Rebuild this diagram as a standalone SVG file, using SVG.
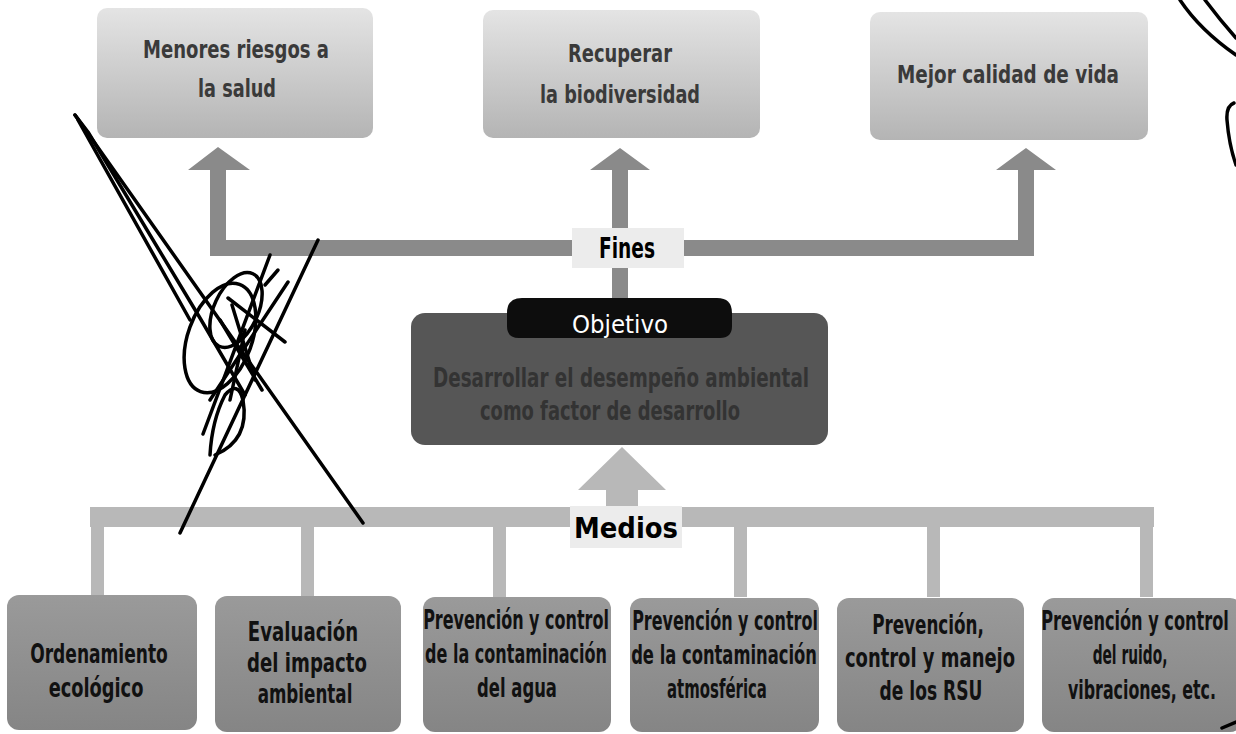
<svg xmlns="http://www.w3.org/2000/svg" width="1236" height="734" viewBox="0 0 1236 734">
<defs>
<style>
.top{fill:url(#gTop)}
.bot{fill:url(#gBot)}
.tt{font-family:"Liberation Sans Narrow","DejaVu Sans Condensed","Liberation Sans",sans-serif;font-weight:bold;font-size:25px;fill:#3a3a3a;text-anchor:middle}
.bt{font-family:"DejaVu Sans Condensed","Liberation Sans",sans-serif;font-weight:bold;font-size:26px;fill:#111;text-anchor:middle}
.lbl{font-family:"Liberation Sans Narrow","DejaVu Sans Condensed","Liberation Sans",sans-serif;font-weight:bold;font-size:28px;fill:#000;text-anchor:middle}
.arrT{fill:#8a8a8a}
.arrM{fill:#b8b8b8}
.scr{fill:none;stroke:#000;stroke-width:3.5;stroke-linecap:round;stroke-linejoin:round}
</style>
<linearGradient id="gTop" x1="0" y1="0" x2="0" y2="1">
<stop offset="0" stop-color="#e4e4e4"/>
<stop offset="1" stop-color="#b4b4b4"/>
</linearGradient>
<linearGradient id="gBot" x1="0" y1="0" x2="0" y2="1">
<stop offset="0" stop-color="#9a9a9a"/>
<stop offset="1" stop-color="#858585"/>
</linearGradient>
</defs>
<rect width="1236" height="734" fill="#fff"/>

<g id="connectors">
  <path class="arrT" d="M210,170 H188 L218,147 L250,170 H226 V240 H572 V256 H210 Z"/>
  <path class="arrT" d="M684,240 H1018 V170 H996 L1026,148 L1056,170 H1034 V256 H684 Z"/>
  <path class="arrT" d="M612,170 H590 L620,148 L650,170 H628 V228 H612 Z"/>
  <rect class="arrT" x="612" y="268" width="16" height="32"/>
  <path class="arrM" d="M606,490 H578 L622,447 L666,490 H638 V507 H606 Z"/>
  <rect class="arrM" x="90" y="507" width="1064" height="20"/>
  <rect class="arrM" x="91" y="527" width="13" height="70"/>
  <rect class="arrM" x="301" y="527" width="13" height="70"/>
  <rect class="arrM" x="493" y="527" width="13" height="70"/>
  <rect class="arrM" x="734" y="527" width="13" height="70"/>
  <rect class="arrM" x="927" y="527" width="13" height="70"/>
  <rect class="arrM" x="1140" y="527" width="13" height="70"/>
</g>

<g id="fines">
  <rect x="572" y="228" width="112" height="40" fill="#ececec"/>
  <text class="lbl" x="627" y="258" textLength="56" lengthAdjust="spacingAndGlyphs">Fines</text>
</g>
<g id="medios">
  <rect x="570" y="506" width="112" height="42" fill="#ececec"/>
  <text class="lbl" x="626" y="538" textLength="104" lengthAdjust="spacingAndGlyphs">Medios</text>
</g>

<g id="fin1">
  <rect class="top" x="97" y="8" width="276" height="130" rx="10"/>
  <text class="tt" x="236" y="58" textLength="186" lengthAdjust="spacingAndGlyphs">Menores riesgos a</text>
  <text class="tt" x="237" y="97" textLength="78" lengthAdjust="spacingAndGlyphs">la salud</text>
</g>
<g id="fin2">
  <rect class="top" x="483" y="10" width="277" height="128" rx="10"/>
  <text class="tt" x="620" y="62" textLength="104" lengthAdjust="spacingAndGlyphs">Recuperar</text>
  <text class="tt" x="620" y="103" textLength="160" lengthAdjust="spacingAndGlyphs">la biodiversidad</text>
</g>
<g id="fin3">
  <rect class="top" x="870" y="12" width="278" height="128" rx="10"/>
  <text class="tt" x="1008" y="83" textLength="222" lengthAdjust="spacingAndGlyphs">Mejor calidad de vida</text>
</g>

<g id="objetivo">
  <rect x="411" y="313" width="417" height="132" rx="14" fill="#565656"/>
  <path d="M522,298 H717 Q732,298 732,313 V326 Q732,338 720,338 H519 Q507,338 507,326 V313 Q507,298 522,298 Z" fill="#0d0d0d"/>
  <text x="620" y="333" font-family="'DejaVu Sans Condensed','Liberation Sans',sans-serif" font-size="24" fill="#fff" text-anchor="middle" textLength="96" lengthAdjust="spacingAndGlyphs">Objetivo</text>
  <text x="621" y="387" font-family="'Liberation Sans Narrow','DejaVu Sans Condensed','Liberation Sans',sans-serif" font-weight="bold" font-size="26" fill="#333" text-anchor="middle" textLength="376" lengthAdjust="spacingAndGlyphs">Desarrollar el desempeño ambiental</text>
  <text x="610" y="420" font-family="'Liberation Sans Narrow','DejaVu Sans Condensed','Liberation Sans',sans-serif" font-weight="bold" font-size="26" fill="#333" text-anchor="middle" textLength="260" lengthAdjust="spacingAndGlyphs">como factor de desarrollo</text>
</g>

<g id="medio1">
  <rect class="bot" x="7" y="595" width="190" height="135" rx="12"/>
  <text class="bt" transform="translate(99,663) scale(0.74,1)" textLength="186" lengthAdjust="spacingAndGlyphs">Ordenamiento</text>
  <text class="bt" transform="translate(96,697) scale(0.74,1)" textLength="128" lengthAdjust="spacingAndGlyphs">ecológico</text>
</g>
<g id="medio2">
  <rect class="bot" x="215" y="596" width="186" height="136" rx="12"/>
  <text class="bt" transform="translate(303,641) scale(0.74,1)" textLength="149" lengthAdjust="spacingAndGlyphs">Evaluación</text>
  <text class="bt" transform="translate(307,672) scale(0.74,1)" textLength="162" lengthAdjust="spacingAndGlyphs">del impacto</text>
  <text class="bt" transform="translate(305,703) scale(0.74,1)" textLength="128" lengthAdjust="spacingAndGlyphs">ambiental</text>
</g>
<g id="medio3">
  <rect class="bot" x="423" y="597" width="188" height="135" rx="12"/>
  <text class="bt" transform="translate(516,629) scale(0.74,1)" textLength="251" lengthAdjust="spacingAndGlyphs">Prevención y control</text>
  <text class="bt" transform="translate(516,663) scale(0.74,1)" textLength="246" lengthAdjust="spacingAndGlyphs">de la contaminación</text>
  <text class="bt" transform="translate(517,697) scale(0.74,1)" textLength="108" lengthAdjust="spacingAndGlyphs">del agua</text>
</g>
<g id="medio4">
  <rect class="bot" x="630" y="598" width="189" height="134" rx="12"/>
  <text class="bt" transform="translate(725,630) scale(0.74,1)" textLength="251" lengthAdjust="spacingAndGlyphs">Prevención y control</text>
  <text class="bt" transform="translate(724,664) scale(0.74,1)" textLength="251" lengthAdjust="spacingAndGlyphs">de la contaminación</text>
  <text class="bt" transform="translate(717,698) scale(0.74,1)" textLength="135" lengthAdjust="spacingAndGlyphs">atmosférica</text>
</g>
<g id="medio5">
  <rect class="bot" x="837" y="598" width="187" height="134" rx="12"/>
  <text class="bt" transform="translate(928,634) scale(0.74,1)" textLength="151" lengthAdjust="spacingAndGlyphs">Prevención,</text>
  <text class="bt" transform="translate(930,667) scale(0.74,1)" textLength="230" lengthAdjust="spacingAndGlyphs">control y manejo</text>
  <text class="bt" transform="translate(931,700) scale(0.74,1)" textLength="139" lengthAdjust="spacingAndGlyphs">de los RSU</text>
</g>
<g id="medio6">
  <rect class="bot" x="1042" y="598" width="200" height="134" rx="12"/>
  <text class="bt" transform="translate(1135,630) scale(0.68,1)" textLength="276" lengthAdjust="spacingAndGlyphs">Prevención y control</text>
  <text class="bt" transform="translate(1130,664) scale(0.74,1)" textLength="101" lengthAdjust="spacingAndGlyphs">del ruido,</text>
  <text class="bt" transform="translate(1142,699) scale(0.74,1)" textLength="200" lengthAdjust="spacingAndGlyphs">vibraciones, etc.</text>
</g>

<g id="scribble">
  <path class="scr" d="M75,115 L363,523"/>
  <path class="scr" d="M75,115 L88,132 L200,318 L245,395"/>
  <path class="scr" d="M78,120 L190,320" stroke-width="3"/>
  <path class="scr" d="M180,533 L318,240"/>
  <path class="scr" d="M203,434 L270,255"/>
  <path class="scr" d="M210,400 L288,282" stroke-width="3"/>
  <path class="scr" d="M228,298 L285,342" stroke-width="3"/>
  <ellipse class="scr" cx="220" cy="338" rx="32" ry="57" transform="rotate(20 220 338)" stroke-width="2.5"/>
  <ellipse class="scr" cx="236" cy="310" rx="22" ry="40" transform="rotate(25 236 310)" stroke-width="2.5"/>
  <path class="scr" d="M215,455 Q250,440 243,400 Q238,380 225,395 Q212,420 210,455" stroke-width="2.5"/>
  <path class="scr" d="M220,320 L262,390 M232,305 L255,380 M245,330 L230,400" stroke-width="4"/>
  <path class="scr" d="M265,285 L278,270" stroke-width="3"/>
  <path class="scr" d="M1180,0 Q1200,30 1236,55" stroke-width="2.5"/>
  <path class="scr" d="M1205,0 Q1220,20 1236,38" stroke-width="2.5"/>
  <path class="scr" d="M1234,103 Q1226,106 1227,120 Q1229,145 1236,165" stroke-width="3"/>
  <path class="scr" d="M1222,728 L1236,722" stroke-width="4"/>
</g>
</svg>
